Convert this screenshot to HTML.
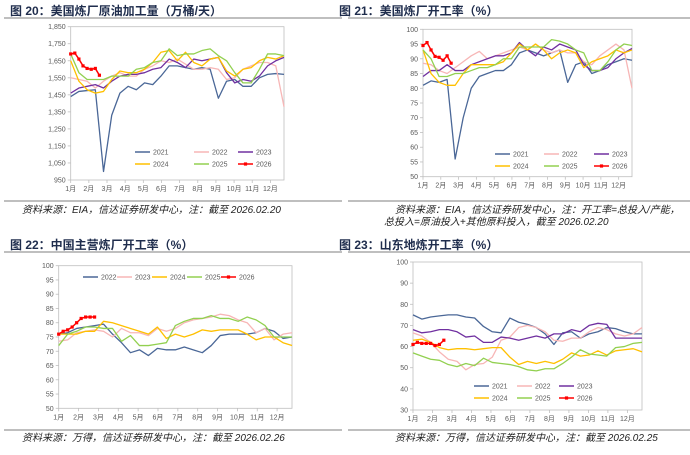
<!DOCTYPE html>
<html><head><meta charset="utf-8">
<style>
html,body{margin:0;padding:0;background:#fff;}
svg{display:block;font-family:"Liberation Sans","Noto Sans CJK SC",sans-serif;}
.ttl{font-size:12px;font-weight:bold;fill:#1f2d4d;}
.src{font-size:10px;font-style:italic;fill:#222;}
.tk{font-size:7px;fill:#595959;}
.lg{font-size:7px;fill:#595959;}
</style></head>
<body>
<svg id="root" width="690" height="455" viewBox="0 0 690 455" xmlns="http://www.w3.org/2000/svg">
  <text class="ttl" x="10" y="15">图 20：美国炼厂原油加工量（万桶/天）</text>
  <line x1="4" y1="18" x2="342" y2="18" stroke="#7f7f7f" stroke-width="1"/>
  <line x1="4" y1="201" x2="342" y2="201" stroke="#7f7f7f" stroke-width="1"/>
  <text class="src" x="22" y="213">资料来源：EIA，信达证券研发中心，注：截至 2026.02.20</text>

  <text class="ttl" x="339" y="15">图 21：美国炼厂开工率（%）</text>
  <line x1="348" y1="18" x2="690" y2="18" stroke="#7f7f7f" stroke-width="1"/>
  <line x1="348" y1="201" x2="690" y2="201" stroke="#7f7f7f" stroke-width="1"/>
  <text class="src" x="395" y="213">资料来源：EIA，信达证券研发中心，注：开工率=总投入/产能，</text>
  <text class="src" x="384" y="225">总投入=原油投入+其他原料投入，截至 2026.02.20</text>

  <text class="ttl" x="10" y="249">图 22：中国主营炼厂开工率（%）</text>
  <line x1="4" y1="252" x2="342" y2="252" stroke="#7f7f7f" stroke-width="1"/>
  <line x1="4" y1="430" x2="342" y2="430" stroke="#7f7f7f" stroke-width="1"/>
  <text class="src" x="22" y="441">资料来源：万得，信达证券研发中心，注：截至 2026.02.26</text>

  <text class="ttl" x="339" y="249">图 23：山东地炼开工率（%）</text>
  <line x1="348" y1="252" x2="690" y2="252" stroke="#7f7f7f" stroke-width="1"/>
  <line x1="348" y1="430" x2="690" y2="430" stroke="#7f7f7f" stroke-width="1"/>
  <text class="src" x="395" y="441">资料来源：万得，信达证券研发中心，注：截至 2026.02.25</text>
</svg>
<script>
const weeks = [0,2,4,6,8,10,12,14,16,18,20,22,24,26,28,30,32,34,36,38,40,42,44,46,48,50,52];
const weeks2026 = [0,1,2,3,4,5,6,7,8];
const monthLabels = ["1月","2月","3月","4月","5月","6月","7月","8月","9月","10月","11月","12月"];
const colors = {"2021":"#4a6797","2022":"#f7b6b6","2023":"#7030a0","2024":"#ffc000","2025":"#92d050","2026":"#ff0000"};
const colors22 = {"2022":"#4a6797","2023":"#f7b6b6","2024":"#ffc000","2025":"#92d050","2026":"#ff0000"};

const c20_2021 = [1440,1470,1475,1480,1000,1330,1460,1500,1480,1520,1510,1560,1620,1620,1610,1600,1610,1600,1430,1530,1540,1500,1500,1550,1570,1575,1570];
const c20_2022 = [1550,1540,1530,1490,1530,1560,1580,1560,1560,1600,1620,1650,1640,1660,1630,1600,1600,1610,1600,1540,1550,1600,1620,1640,1640,1620,1380];
const c20_2023 = [1460,1490,1500,1510,1490,1530,1560,1570,1570,1580,1600,1610,1660,1640,1610,1660,1650,1660,1670,1580,1520,1540,1530,1560,1620,1650,1670];
const c20_2024 = [1650,1530,1480,1460,1470,1540,1590,1580,1580,1600,1640,1700,1710,1650,1700,1640,1620,1660,1670,1590,1560,1600,1610,1650,1670,1660,1680];
const c20_2025 = [1690,1580,1540,1540,1540,1560,1560,1560,1600,1610,1640,1650,1720,1680,1690,1690,1710,1720,1680,1650,1580,1520,1520,1600,1690,1690,1680];
const c20_2026 = [1690,1695,1660,1620,1605,1600,1605,1565];
const c20_ticks = [950,1050,1150,1250,1350,1450,1550,1650,1750,1850];
const c20_tickLabels = ["950","1,050","1,150","1,250","1,350","1,450","1,550","1,650","1,750","1,850"];

const c21_2021 = [81,82.5,82,83,56,70,80,84,85,86,86,88,92,93,92,91,92,93,82,88,89,85,86,88,89,90,89.5];
const c21_2022 = [88.5,88,86,85,87,89,91,92.5,90,91,92,93,94,93,95,93,92,93,92,92,89,88,91,93,95,93,80];
const c21_2023 = [84,86,86,88,86,86,88,89,90,91,91,92,95.5,93,91,94,93,95,94,93,88,86,86,87,90,92,93.5];
const c21_2024 = [93,85,82,81,81,85,88,88,88,88,89,92,95,93,95,93,90,92,93,92,87,89,90,91,93,92,93];
const c21_2025 = [93,90,84,84,85,85,86,87,87,88,90,90,94,94,94,94,96.5,96,95,93,92,86,86,89,93,95,94.5];
const c21_2026 = [94.5,95.5,93,90.8,90.5,89.5,91,88.5];
const c21_ticks = [50,55,60,65,70,75,80,85,90,95,100];

const c22_2022 = [76,76.5,78,78.5,79,79.5,76,73,69.5,70.5,68.5,71,70.5,70.5,71.5,70.5,69.5,72,75.5,76,76,76,76.5,78,77,74.5,75];
const c22_2023 = [73.5,74,76.5,77,77.5,77,75,78,76.5,76.5,75.5,78,77,78,80,81,81.5,82,83,82.5,81,80,76.5,78,74,76,76.5];
const c22_2024 = [76,76,76,77,77,80.5,80,79,78,77,76,78.5,74.5,76,75,76,77.5,77,77.5,77.5,77.5,76,74,75,75,73,72];
const c22_2025 = [72,76,77,78.5,78.5,78,78,73.5,75.5,72,72,72.5,73,79,80.5,81.5,81.5,82.5,81.5,81.5,80.5,82,81,79,75,75,75];
const c22_2026 = [76,77,77.5,78.5,80,81.5,82,82,82];
const c22_ticks = [50,55,60,65,70,75,80,85,90,95,100];

const c23_2021 = [75,73,74,74.5,75,75,74,73.5,69.5,67,66.5,73.5,71.5,70.5,69,66,61,66.5,67,64,66,67,69,68.5,67,66,66];
const c23_2022 = [66.5,65,62,57.5,54,53,49,51.5,52,55,63,64.5,69,70,69,67,63,62.5,64,64,67,69,68,66,65,66,69];
const c23_2023 = [68,66.5,67,68,68,67,64.5,65,62,62,64.5,64,63,64,65,64,66,66,68,67,70,71,70.5,64,64,64,64];
const c23_2024 = [63,63.5,62,59.5,58.5,59,59,58.5,59,59.5,59.5,55,51.5,53,52,53,52,54,57,55.5,56,58,56,58,58.5,59,57.5];
const c23_2025 = [57,55.5,54,53.5,51.5,50.5,52,51,54.5,52.5,52,51.5,50.5,49,48.5,49.5,49.5,52,55,58.5,56.5,56,55.5,59.5,60,61.5,62];
const c23_2026 = [61,62,61.5,61.5,61.5,60.5,61,63];
const c23_ticks = [30,40,50,60,70,80,90,100];

const svg = document.getElementById('root');
const NS = 'http://www.w3.org/2000/svg';
function mk(tag, attrs, parent){
  const e = document.createElementNS(NS, tag);
  for (const k in attrs) e.setAttribute(k, attrs[k]);
  (parent||svg).appendChild(e);
  return e;
}

function drawChart(cfg){
  const pal = cfg.palette || colors;
  const g = mk('g', {});
  
  
  const {x0,x1,y0,y1,ymin,ymax} = cfg;
  const xs = w => x0 + (w/52)*(x1-x0);
  const ys = v => y1 - (v-ymin)/(ymax-ymin)*(y1-y0);
  const frame = mk('rect', {x:x0,y:y0,width:x1-x0,height:y1-y0,fill:'none',stroke:'#bfbfbf','stroke-width':0.8}, g);
  
  
  cfg.ticks.forEach((t,i) => {
    const tk = mk('line', {x1:x0-3,x2:x0,y1:ys(t),y2:ys(t),stroke:'#bfbfbf','stroke-width':0.8}, g);
    
    
    const lb = mk('text', {x:x0-5,y:ys(t)+2.5,'text-anchor':'end',class:'tk'}, g);
    lb.textContent = cfg.tickLabels ? cfg.tickLabels[i] : String(t);
    
    
  });
  monthLabels.forEach((m,i) => {
    const w = i*52/11.75;
    const tk = mk('line', {x1:xs(w),x2:xs(w),y1:y1,y2:y1+3,stroke:'#bfbfbf','stroke-width':0.8}, g);
    
    
    const lb = mk('text', {x:xs(w),y:y1+11,'text-anchor':'middle',class:'tk'}, g);
    lb.textContent = m;
    
    
  });
  cfg.series.forEach(s => {
    const cats = s.name === '2026' ? weeks2026 : weeks;
    const pts = s.values.map((v,i) => xs(cats[i]) + ',' + ys(v)).join(' ');
    const pl = mk('polyline', {points:pts,fill:'none',stroke:pal[s.name],'stroke-width':s.name==='2026'?1.5:1.3,'stroke-linejoin':'round'}, g);
    
    
    if (s.name === '2026') {
      s.values.forEach((v,i) => {
        const m = mk('rect', {x:xs(cats[i])-1.6,y:ys(v)-1.6,width:3.2,height:3.2,fill:'#ff0000'}, g);
        
        
      });
    }
  });
  cfg.legend.forEach(L => {
    const lg = mk('g', {}, g);
    
    
    mk('line', {x1:L.x,x2:L.x+15,y1:L.y,y2:L.y,stroke:pal[L.name],'stroke-width':1.5}, lg);
    if (L.name === '2026') mk('rect', {x:L.x+5.9,y:L.y-1.6,width:3.2,height:3.2,fill:'#ff0000'}, lg);
    const t = mk('text', {x:L.x+18,y:L.y+2.5,class:'lg'}, lg);
    t.textContent = L.name;
  });
}

drawChart({id:'chart20',x0:70.7,x1:284,y0:26.7,y1:180,ymin:950,ymax:1850,ticks:c20_ticks,tickLabels:c20_tickLabels,
  series:[{name:'2021',values:c20_2021},{name:'2022',values:c20_2022},{name:'2023',values:c20_2023},{name:'2024',values:c20_2024},{name:'2025',values:c20_2025},{name:'2026',values:c20_2026}],
  legend:[{name:'2021',x:135,y:152},{name:'2022',x:194,y:152},{name:'2023',x:238,y:152},{name:'2024',x:135,y:164},{name:'2025',x:194,y:164},{name:'2026',x:238,y:164}]});

drawChart({id:'chart21',x0:423,x1:632,y0:29.3,y1:176.7,ymin:50,ymax:100,ticks:c21_ticks,
  series:[{name:'2021',values:c21_2021},{name:'2022',values:c21_2022},{name:'2023',values:c21_2023},{name:'2024',values:c21_2024},{name:'2025',values:c21_2025},{name:'2026',values:c21_2026}],
  legend:[{name:'2021',x:495,y:154},{name:'2022',x:544,y:154},{name:'2023',x:594,y:154},{name:'2024',x:495,y:166},{name:'2025',x:544,y:166},{name:'2026',x:594,y:166}]});

drawChart({id:'chart22',palette:colors22,x0:58.7,x1:292,y0:265.7,y1:408.3,ymin:50,ymax:100,ticks:c22_ticks,
  series:[{name:'2022',values:c22_2022},{name:'2023',values:c22_2023},{name:'2024',values:c22_2024},{name:'2025',values:c22_2025},{name:'2026',values:c22_2026}],
  legend:[{name:'2022',x:83,y:277},{name:'2023',x:117,y:277},{name:'2024',x:152,y:277},{name:'2025',x:187,y:277},{name:'2026',x:221,y:277}]});

drawChart({id:'chart23',x0:413,x1:642,y0:262,y1:410,ymin:30,ymax:100,ticks:c23_ticks,
  series:[{name:'2021',values:c23_2021},{name:'2022',values:c23_2022},{name:'2023',values:c23_2023},{name:'2024',values:c23_2024},{name:'2025',values:c23_2025},{name:'2026',values:c23_2026}],
  legend:[{name:'2021',x:474,y:386},{name:'2022',x:517,y:386},{name:'2023',x:559,y:386},{name:'2024',x:474,y:398},{name:'2025',x:517,y:398},{name:'2026',x:559,y:398}]});
</script>
</body></html>
